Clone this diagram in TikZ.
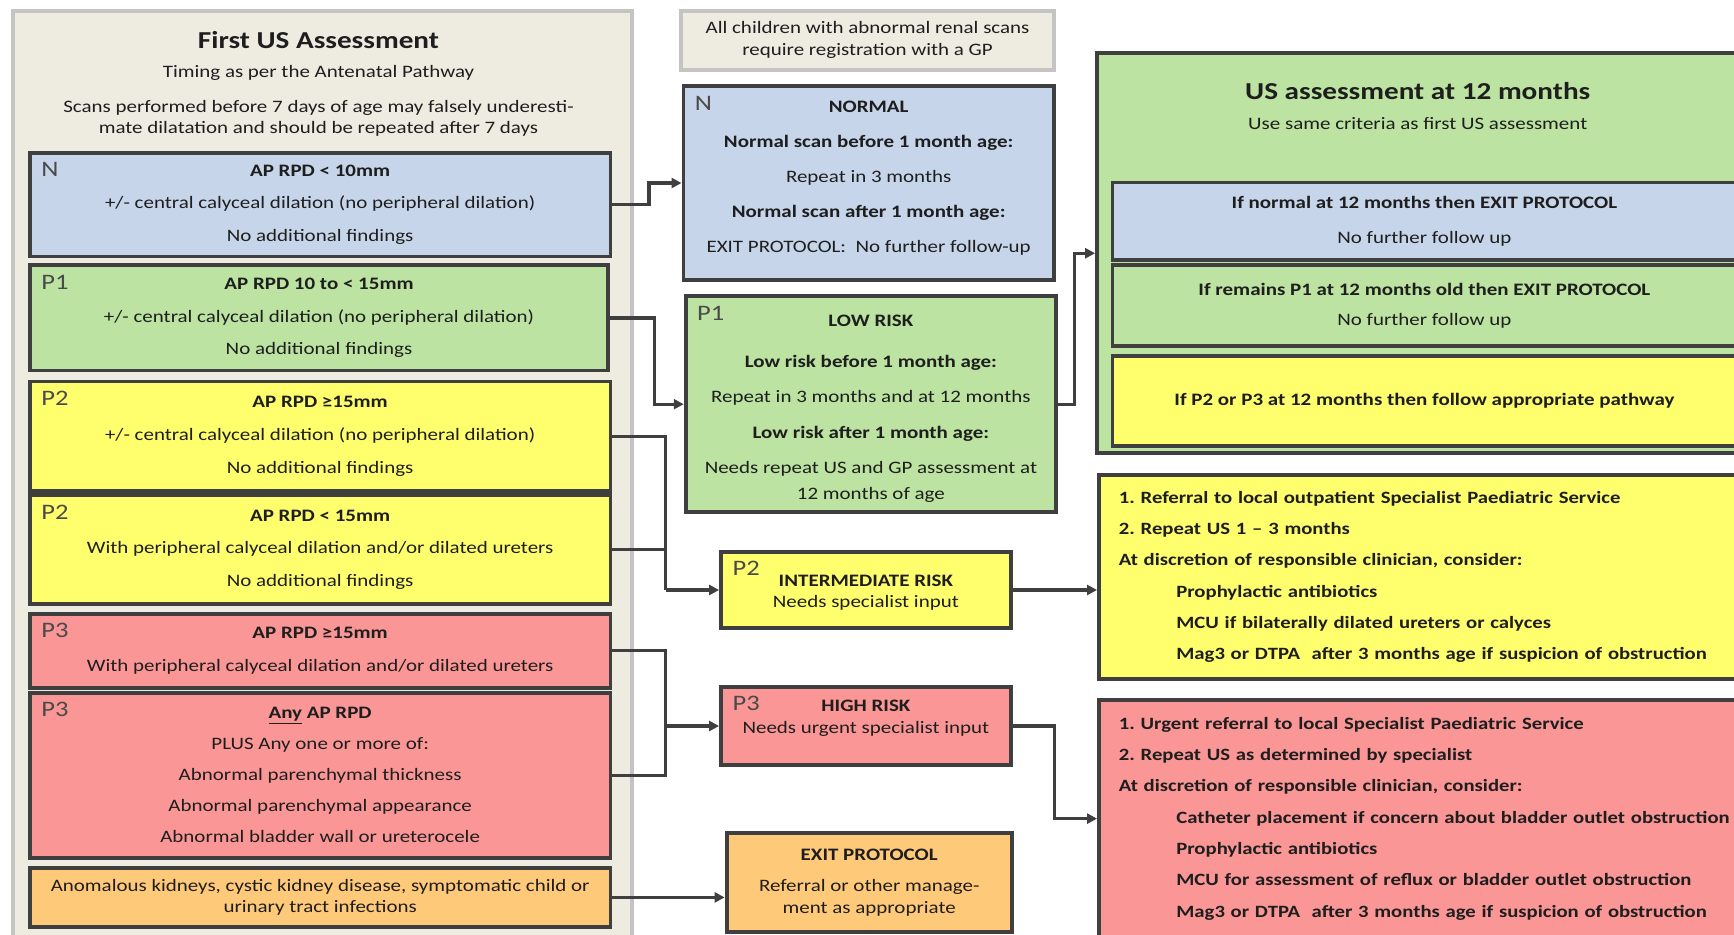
\documentclass[tikz,border=0pt]{standalone}
\usepackage{fontspec}
\setmainfont{Carlito}[FakeStretch=1.2]
\frenchspacing
\usetikzlibrary{arrows.meta,positioning}
\definecolor{edge}{HTML}{3F3F3F}
\definecolor{shell}{HTML}{EEECE1}
\definecolor{shellrim}{HTML}{C4C4C4}
\definecolor{nblue}{HTML}{C6D5EA}
\definecolor{pgreen}{HTML}{BCE3A1}
\definecolor{pyellow}{HTML}{FFFF6E}
\definecolor{pred}{HTML}{FA9696}
\definecolor{porange}{HTML}{FFC97A}
\definecolor{ink}{HTML}{1E1E1E}
\definecolor{tagc}{HTML}{4A4A4A}
\tikzset{box/.style={draw=edge,line width=3.5pt,align=center,inner sep=0pt,text=ink},
lbox/.style={box,minimum width=525pt,font=\fontsize{15.8}{29.5}\selectfont},
rbox/.style={box,font=\fontsize{15.6}{28.3}\selectfont\bfseries,align=left,anchor=north west,inner xsep=18pt,text width=600pt},
shellbox/.style={draw=shellrim,fill=shell,line width=3.5pt,inner sep=0pt},
tag/.style={font=\fontsize{20}{20}\selectfont,text=tagc,anchor=west,inner sep=0pt},
txt/.style={align=center,text=ink,inner sep=0pt},
arr/.style={draw=edge,line width=3pt,-{Triangle[length=9pt,width=9pt]}},
wire/.style={draw=edge,line width=3pt}}
\begin{document}
\begin{tikzpicture}[x=1pt,y=-1pt]
\useasboundingbox(0,0)rectangle(1568,845);
\clip(0,0)rectangle(1568,845);
\node[shellbox,minimum width=560pt,minimum height=860pt,anchor=north west](first)at(10,8){};
\node[txt,font=\fontsize{22}{22}\selectfont\bfseries](firsttitle)at(288,36){First US Assessment};
\node[txt,font=\fontsize{15.8}{19}\selectfont](timing)at(288,66){Timing as per the Antenatal Pathway};
\node[txt,font=\fontsize{15.8}{19}\selectfont](scans)at(288,107){Scans performed before 7 days of age may falsely underesti-\\mate dilatation and should be repeated after 7 days};
\node[lbox,fill=nblue,minimum height=94pt](n1)at(289.5,185){\textbf{AP RPD < 10mm}\\+/- central calyceal dilation (no peripheral dilation)\\No additional findings};
\node[lbox,fill=pgreen,minimum width=523pt,minimum height=95pt](p1)at(288.5,287.5){\textbf{AP RPD 10 to < 15mm}\\+/- central calyceal dilation (no peripheral dilation)\\No additional findings};
\node[lbox,fill=pyellow,minimum height=99pt](p2a)at(289.5,394.5){\textbf{AP RPD ≥15mm}\\+/- central calyceal dilation (no peripheral dilation)\\No additional findings};
\node[lbox,fill=pyellow,minimum height=98pt](p2b)at(289.5,497){\textbf{AP RPD < 15mm}\\With peripheral calyceal dilation and/or dilated ureters\\No additional findings};
\node[lbox,fill=pred,minimum height=67pt](p3a)at(289.5,588.5){\textbf{AP RPD ≥15mm}\\With peripheral calyceal dilation and/or dilated ureters};
\node[lbox,fill=pred,minimum height=149pt,font=\fontsize{15.8}{28}\selectfont](p3b)at(289.5,701){\textbf{\underline{Any} AP RPD}\\PLUS Any one or more of:\\Abnormal parenchymal thickness\\Abnormal parenchymal appearance\\Abnormal bladder wall or ureterocele};
\node[lbox,fill=porange,minimum height=53pt,font=\fontsize{15.8}{19}\selectfont](ora)at(289.5,811.5){Anomalous kidneys, cystic kidney disease, symptomatic child or\\urinary tract infections};
\node[shellbox,txt,font=\fontsize{15.8}{20}\selectfont,minimum width=337pt,minimum height=53pt](gp)at(784.5,36.5){All children with abnormal renal scans\\require registration with a GP};
\node[box,fill=nblue,minimum width=335pt,minimum height=175pt](norm)at(785.5,165.5){};
\node[txt,font=\fontsize{15.8}{31.7}\selectfont](normtxt)at([yshift=4.5pt]norm.center){\textbf{NORMAL}\\\textbf{Normal scan before 1 month age:}\\Repeat in 3 months\\\textbf{Normal scan after 1 month age:}\\EXIT PROTOCOL:\ \ No further follow-up};
\node[box,fill=pgreen,minimum width=335pt,minimum height=195pt](low)at(787.5,365.5){};
\node[txt,font=\fontsize{15.8}{32}\selectfont](lowtxt)at([yshift=-4pt]low.center){\textbf{LOW RISK}\\[5pt]\textbf{Low risk before 1 month age:}\\Repeat in 3 months and at 12 months\\\textbf{Low risk after 1 month age:}\\Needs repeat US and GP assessment at\\[-9pt]12 months of age};
\node[box,fill=pyellow,minimum width=262pt,minimum height=69pt](mid)at(783,533.5){};
\node[txt,font=\fontsize{15.8}{19}\selectfont](midtxt)at([yshift=-2.5pt]mid.center){\textbf{INTERMEDIATE RISK}\\Needs specialist input};
\node[box,fill=pred,minimum width=262pt,minimum height=71pt](high)at(783,656.5){};
\node[txt,font=\fontsize{15.8}{20}\selectfont](hightxt)at([yshift=7pt]high.center){\textbf{HIGH RISK}\\Needs urgent specialist input};
\node[box,fill=porange,minimum width=258pt,minimum height=90pt,font=\fontsize{15.8}{20}\selectfont](exit)at(786,798){\textbf{EXIT PROTOCOL}\\[8pt]Referral or other manage-\\ment as appropriate};
\foreach\b/\t in{n1/N,p1/P1,p2a/P2,p2b/P2,p3a/P3,p3b/P3,norm/N,low/P1,mid/P2,high/P3}\node[tag](tag\b)at([xshift=12pt,yshift=-17pt]\b.north west){\t};
\node[box,fill=pgreen,minimum width=580pt,minimum height=362pt](usbox)at(1282,229){};
\node[txt,font=\fontsize{22}{22}\selectfont\bfseries](ustitle)at(1282,82){US assessment at 12 months};
\node[txt,font=\fontsize{15.8}{19}\selectfont](ussub)at(1282,112){Use same criteria as first US assessment};
\node[box,fill=nblue,minimum width=564pt,minimum height=70pt,font=\fontsize{15.8}{32}\selectfont](usn)at(1288,200){\textbf{If normal at 12 months then EXIT PROTOCOL}\\No further follow up};
\node[box,fill=pgreen,minimum width=564pt,minimum height=73pt,font=\fontsize{15.8}{28}\selectfont](usp1)at(1288,276.5){\textbf{If remains P1 at 12 months old then EXIT PROTOCOL}\\No further follow up};
\node[box,fill=pyellow,minimum width=564pt,minimum height=81pt,font=\fontsize{15.8}{28}\selectfont\bfseries](usp2)at(1288,362.5){If P2 or P3 at 12 months then follow appropriate pathway};
\node[rbox,fill=pyellow,minimum height=184pt](yact)at(992,428){1. Referral to local outpatient Specialist Paediatric Service\\2. Repeat US 1 – 3 months\\At discretion of responsible clinician, consider:\\\hspace*{52pt}Prophylactic antibiotics\\\hspace*{52pt}MCU if bilaterally dilated ureters or calyces\\\hspace*{52pt}Mag3 or DTPA\ \ after 3 months age if suspicion of obstruction};
\node[rbox,fill=pred,minimum height=215pt](ract)at(992,631){1. Urgent referral to local Specialist Paediatric Service\\2. Repeat US as determined by specialist\\At discretion of responsible clinician, consider:\\\hspace*{52pt}Catheter placement if concern about bladder outlet obstruction\\\hspace*{52pt}Prophylactic antibiotics\\\hspace*{52pt}MCU for assessment of reflux or bladder outlet obstruction\\\hspace*{52pt}Mag3 or DTPA\ \ after 3 months age if suspicion of obstruction};
\coordinate(j2)at(602,533.5);\coordinate(j3)at(602,656.5);
\draw[arr](n1.east)--++(33,0)|-(norm.west);
\draw[arr](p1.east)--++(40,0)|-(low.west);
\foreach\b in{p2a,p2b}\draw[wire](\b.east)-|(j2);
\foreach\b in{p3a,p3b}\draw[wire](\b.east)-|(j3);
\draw[arr](j2)--(mid.west);\draw[arr](j3)--(high.west);
\draw[arr](ora.east)--(ora.east -| exit.west);
\draw[arr](low.east)--++(15,0)|-(usbox.west);
\draw[arr](mid.east)--(mid.east -| yact.west);
\draw[arr](high.east)--++(38,0)|-(ract.west);
\end{tikzpicture}
\end{document}
